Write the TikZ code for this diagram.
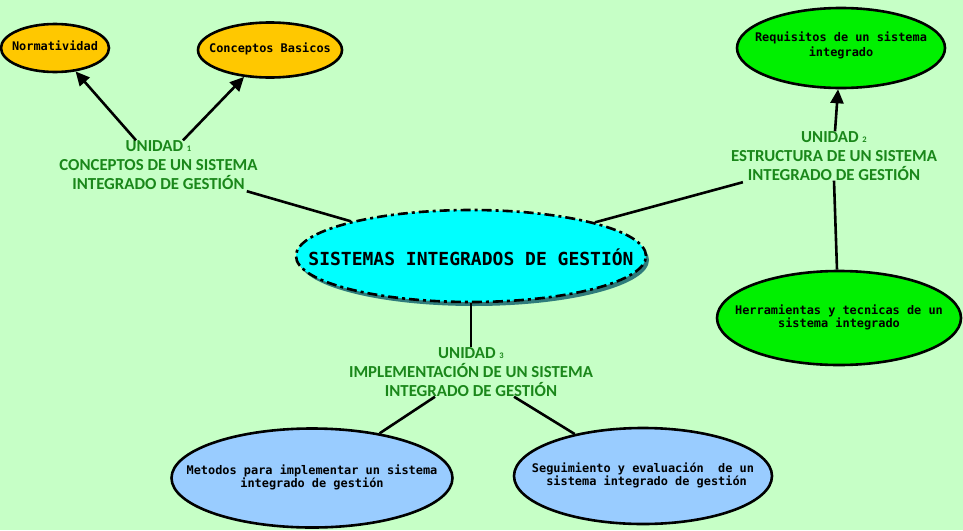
\documentclass[tikz,border=0pt]{standalone}
\usepackage{fontspec}
\setmainfont{Carlito}
\newfontfamily\monofont{DejaVu Sans Mono}
\usetikzlibrary{shapes.geometric,arrows.meta,shadows}
\definecolor{bgc}{HTML}{C6FFC6}
\definecolor{orangec}{HTML}{FFC800}
\definecolor{limec}{HTML}{00F000}
\definecolor{bluec}{HTML}{99CCFF}
\definecolor{cyanc}{HTML}{00FFFF}
\definecolor{shadowc}{HTML}{2E7C7C}
\definecolor{lblgreen}{HTML}{1A871A}
\newcommand\zbox[1]{\makebox[0pt][c]{\begin{tabular}{@{}c@{}}#1\end{tabular}}}
\newcommand\shiftbox[2]{\raisebox{#1}[\height][\depth]{#2}}
\newcommand\smalldigit[1]{{\fontsize{8.5}{9}\selectfont #1}}
\tikzset{
  ell/.style={ellipse, draw=black, line width=2.6pt, inner sep=0pt,
    font=\monofont\bfseries\fontsize{11.9}{13}\selectfont},
  unitlbl/.style={inner sep=0pt, align=center, text=lblgreen,
    font=\bfseries\fontsize{16.8}{19}\selectfont},
  conn/.style={line width=2.6pt, draw=black},
  arr/.style={conn, -{Triangle[length=14pt,width=13pt]}}
}
\begin{document}
\begin{tikzpicture}[x=1pt,y=-1pt]
\fill[bgc] (0,0) rectangle (963,530);
\useasboundingbox (0,0) rectangle (963,530);

% central
\node[ell, fill=cyanc, minimum width=350pt, minimum height=92pt,
  dash pattern={on 10pt off 4pt on 3pt off 4pt},
  drop shadow={shadow xshift=3pt, shadow yshift=-4pt, fill=shadowc, opacity=1},
  font=\monofont\bfseries\fontsize{18}{20}\selectfont] (c) at (471,256)
  {\shiftbox{-4pt}{\zbox{SISTEMAS INTEGRADOS DE GESTIÓN}}};

% unit 1
\node[ell, fill=orangec, minimum width=108pt, minimum height=48pt] (n) at (55,48) {\zbox{Normatividad}};
\node[ell, fill=orangec, minimum width=144pt, minimum height=55pt] (cb) at (270,50) {\zbox{Conceptos Basicos}};
\node[unitlbl] (u1) at (158.5,165) {UNIDAD \smalldigit{1}\\CONCEPTOS DE UN SISTEMA\\INTEGRADO DE GESTIÓN};

% unit 2
\node[ell, fill=limec, minimum width=208pt, minimum height=80pt,
  font=\monofont\bfseries\fontsize{11.9}{15}\selectfont] (r) at (841,48)
  {\shiftbox{2pt}{\zbox{Requisitos de un sistema\\integrado}}};
\node[ell, fill=limec, minimum width=244pt, minimum height=94pt] (h) at (839,318)
  {\zbox{Herramientas y tecnicas de un\\sistema integrado}};
\node[unitlbl] (u2) at (834,156) {UNIDAD \smalldigit{2}\\ESTRUCTURA DE UN SISTEMA\\INTEGRADO DE GESTIÓN};

% unit 3
\node[ell, fill=bluec, minimum width=281pt, minimum height=99pt] (m) at (312,478)
  {\zbox{Metodos para implementar un sistema\\integrado de gestión}};
\node[ell, fill=bluec, minimum width=258pt, minimum height=96pt] (s) at (643,476)
  {\zbox{Seguimiento y evaluación~ de un\\\ sistema integrado de gestión}};
\node[unitlbl] (u3) at (471,372) {UNIDAD \smalldigit{3}\\IMPLEMENTACIÓN DE UN SISTEMA\\INTEGRADO DE GESTIÓN};

% connectors
\draw[conn] (c) -- ([xshift=-11pt,yshift=-1.5pt]u1.south east);
\draw[arr] ([xshift=-22.5pt]u1.north) -- (n);
\draw[arr] ([xshift=24.5pt]u1.north) -- (cb);

\draw[conn] (c) -- ([xshift=12pt,yshift=-1.5pt]u2.south west);
\draw[arr] ([xshift=1pt]u2.north) -- (r);
\draw[conn] ([xshift=-2pt]h.north) -- (u2.south);

\draw[conn] (c) -- (u3.north);
\draw[conn] ([xshift=-36pt]u3.south) -- (m);
\draw[conn] ([xshift=43pt]u3.south) -- (s);
\end{tikzpicture}
\end{document}
